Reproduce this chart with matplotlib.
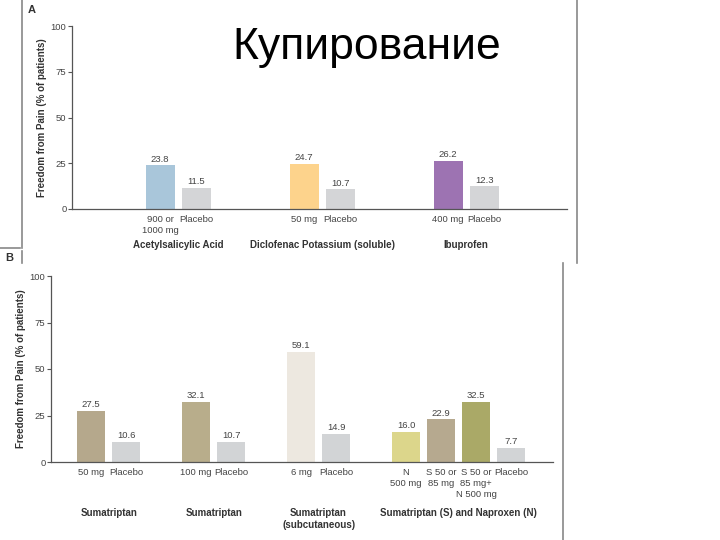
import numpy as np
import matplotlib.pyplot as plt
from matplotlib.lines import Line2D
from matplotlib.transforms import blended_transform_factory

plt.rcParams['font.family'] = ['Liberation Sans', 'DejaVu Sans']

# panel A data
groups_a = ['Acetylsalicylic Acid', 'Diclofenac Potassium (soluble)', 'Ibuprofen']
doses_a = [['900 or\n1000 mg', 'Placebo'], ['50 mg', 'Placebo'], ['400 mg', 'Placebo']]
values_a = [[23.8, 11.5], [24.7, 10.7], [26.2, 12.3]]
colors_a = [['#a9c6da', '#d4d5d7'], ['#fdd38c', '#d4d5d7'], ['#9d73b2', '#d4d5d7']]

# panel B data
groups_b = ['Sumatriptan', 'Sumatriptan', 'Sumatriptan\n(subcutaneous)',
            'Sumatriptan (S) and Naproxen (N)']
doses_b = [['50 mg', 'Placebo'], ['100 mg', 'Placebo'], ['6 mg', 'Placebo'],
           ['N\n500 mg', 'S 50 or\n85 mg', 'S 50 or\n85 mg+\nN 500 mg', 'Placebo']]
values_b = [[27.5, 10.6], [32.1, 10.7], [59.1, 14.9], [16.0, 22.9, 32.5, 7.7]]
colors_b = [['#b5a88c', '#d2d4d6'], ['#b8ad8b', '#d2d4d6'], ['#ede8e0', '#d2d4d6'],
            ['#dcd68b', '#b6a98f', '#aaa967', '#d2d4d6']]

W, H = 720, 540
fig = plt.figure(figsize=(7.2, 5.4), dpi=100)


def px_axes(x0, y0, x1, y1):
    return fig.add_axes([x0 / W, 1 - y1 / H, (x1 - x0) / W, (y1 - y0) / H])


def draw_panel(ax, groups, doses, values, colors, gap, xlim, glabel_y):
    pos = 0
    tick_pos, tick_lab = [], []
    tr = blended_transform_factory(ax.transData, ax.transAxes)
    for name, ds, vs, cs in zip(groups, doses, values, colors):
        xs = pos + np.arange(len(vs))
        ax.bar(xs, vs, width=0.8, color=cs)
        for x, v in zip(xs, vs):
            ax.text(x, v + 1.0, f'{v:.1f}', ha='center', va='bottom',
                    fontsize=6.8, color='#444444')
        tick_pos.extend(xs)
        tick_lab.extend(ds)
        ax.text(xs.mean(), glabel_y, name, transform=tr, ha='center', va='top',
                fontsize=7, fontweight='bold', color='#333333', linespacing=1.3)
        pos = xs[-1] + 1 + gap
    ax.set_xticks(tick_pos, tick_lab)
    ax.tick_params(axis='x', length=0, pad=4, labelsize=6.8, labelcolor='#444444')
    ax.set_xlim(*xlim)
    ax.set_ylim(0, 100)
    ax.set_yticks([0, 25, 50, 75, 100])
    ax.tick_params(axis='y', length=3, width=0.8, labelsize=6.8,
                   labelcolor='#444444', color='#555555', pad=1)
    for s in ['top', 'right']:
        ax.spines[s].set_visible(False)
    for s in ['left', 'bottom']:
        ax.spines[s].set_color('#555555')
        ax.spines[s].set_linewidth(0.9)
    ax.set_ylabel('Freedom from Pain (% of patients)', fontsize=7,
                  fontweight='bold', color='#333333', labelpad=3)
    for lab in ax.get_xticklabels():
        lab.set_linespacing(1.3)
        lab.set_verticalalignment('top')


ax_a = px_axes(72, 26, 567, 209)
draw_panel(ax_a, groups_a, doses_a, values_a, colors_a, 2, (-2.45, 11.3), -0.17)

ax_b = px_axes(51, 276, 553, 462)
draw_panel(ax_b, groups_b, doses_b, values_b, colors_b, 1, (-1.15, 13.2), -0.245)

# panel frame lines and letters
frame = dict(color='#888888', linewidth=1.2, transform=fig.transFigure)
fig.add_artist(Line2D([577 / W, 577 / W], [1, 1 - 263 / H], **frame))
fig.add_artist(Line2D([563 / W, 563 / W], [1 - 263 / H, 0], **frame))
fig.add_artist(Line2D([22 / W, 22 / W], [1, 1 - 248 / H], **frame))
fig.add_artist(Line2D([0, 20 / W], [1 - 248 / H, 1 - 248 / H], **frame))
fig.add_artist(Line2D([22 / W, 22 / W], [1 - 251 / H, 1 - 263 / H], **frame))
fig.text(32 / W, 1 - 10 / H, 'A', fontsize=8, fontweight='bold', color='#333333',
         ha='center', va='center')
fig.text(9 / W, 1 - 258 / H, 'B', fontsize=8, fontweight='bold', color='#333333',
         ha='center', va='center')

fig.text(367 / W, 1 - 47 / H, 'Купирование', fontsize=32,
         ha='center', va='center', color='black')

fig.savefig('out.png', dpi=100)
